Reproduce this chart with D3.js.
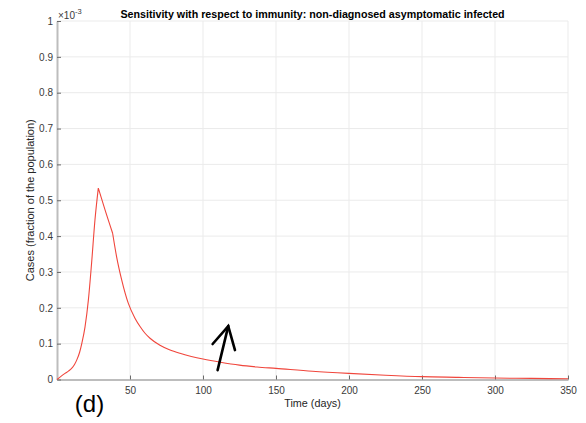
<!DOCTYPE html>
<html><head><meta charset="utf-8">
<script src="https://cdn.jsdelivr.net/npm/d3@7"></script>
<style>body{margin:0;background:#fff}svg{display:block}text{font-family:"Liberation Sans",Arial,sans-serif}</style>
</head><body><svg id="c" width="586" height="423"></svg>
<script>
const days = [0, 2.5, 5.5, 8, 10, 12, 13.5, 15.5, 17, 19.2, 21.5, 23.7, 26, 28.3, 32.9, 38.1, 40.8, 44.3, 48.8, 53.4, 57, 60.3, 63.7, 70.5, 77, 84.2, 92, 100, 112, 125, 137, 150, 175, 200, 225, 250, 275, 300, 325, 350];
const cases = [0, 0.008, 0.017, 0.024, 0.031, 0.042, 0.054, 0.076, 0.101, 0.147, 0.222, 0.325, 0.445, 0.534, 0.473, 0.408, 0.343, 0.278, 0.213, 0.171, 0.147, 0.129, 0.115, 0.0955, 0.083, 0.073, 0.0644, 0.057, 0.048, 0.040, 0.035, 0.031, 0.023, 0.017, 0.012, 0.008, 0.006, 0.004, 0.003, 0.002];
const breakDays = [28.3, 38.1];
const xTicks = [50, 100, 150, 200, 250, 300, 350];
const yTicks = [0, 0.1, 0.2, 0.3, 0.4, 0.5, 0.6, 0.7, 0.8, 0.9, 1];
const arrowShaft = [[110, 0.026], [117.3, 0.149]];
const arrowHead = [[106.6, 0.099], [117.3, 0.149], [121.9, 0.082]];
const title = "Sensitivity with respect to immunity: non-diagnosed asymptomatic infected";

const svg = d3.select("#c");
const L = 57, T = 21, R = 568, B = 379.5;
const x = d3.scaleLinear().domain([0, 350]).range([L, R]);
const y = d3.scaleLinear().domain([0, 1]).range([B, T]);

// grid
svg.append("g").selectAll("line").data(xTicks).join("line")
  .attr("x1", d => x(d)).attr("x2", d => x(d)).attr("y1", T).attr("y2", B)
  .attr("stroke", "#ebebeb").attr("stroke-width", 1);
svg.append("g").selectAll("line").data(yTicks).join("line")
  .attr("x1", L).attr("x2", R).attr("y1", d => y(d)).attr("y2", d => y(d))
  .attr("stroke", "#ebebeb").attr("stroke-width", 1);

// axes
const xAxis = svg.append("g").attr("transform", `translate(0,${B})`)
  .call(d3.axisBottom(x).tickValues(xTicks).tickSizeInner(-4).tickSizeOuter(0).tickPadding(7).tickFormat(d3.format("d")));
const yAxis = svg.append("g").attr("transform", `translate(${L},0)`)
  .call(d3.axisLeft(y).tickValues(yTicks).tickSizeInner(-4).tickSizeOuter(0).tickPadding(4).tickFormat(d => d === 0 ? "0" : d === 1 ? "1" : d3.format(".1f")(d)));
[xAxis, yAxis].forEach(a => {
  a.select(".domain").attr("stroke", "#bdbdbd").attr("stroke-width", 2);
  a.selectAll(".tick line").attr("stroke", "#6a6a6a");
  a.selectAll(".tick text").attr("fill", "#3a3a3a").style("font-size", "10px").style("font-family", '"Liberation Sans",Arial,sans-serif');
});

// line, drawn as smooth segments split at the sharp corners
const pts = days.map((d, i) => [d, cases[i]]);
const cuts = [0, ...breakDays.map(b => days.indexOf(b)), days.length - 1];
const curveLine = d3.line().curve(d3.curveMonotoneX).x(d => x(d[0])).y(d => y(d[1]));
let dStr = "";
for (let k = 0; k < cuts.length - 1; k++) dStr += curveLine(pts.slice(cuts[k], cuts[k + 1] + 1));
svg.append("path").attr("fill", "none").attr("stroke", "#f0463c").attr("stroke-width", 1.1)
  .attr("stroke-linejoin", "miter").attr("d", dStr);

// arrow annotation
const ln = d3.line().x(d => x(d[0])).y(d => y(d[1]));
svg.append("path").attr("d", ln(arrowShaft)).attr("fill", "none").attr("stroke", "#000").attr("stroke-width", 2.6).attr("stroke-linecap", "round");
svg.append("path").attr("d", ln(arrowHead)).attr("fill", "none").attr("stroke", "#000").attr("stroke-width", 2.6).attr("stroke-linecap", "round").attr("stroke-linejoin", "miter");

// texts
svg.append("text").attr("x", (L + R) / 2).attr("y", 18).attr("text-anchor", "middle")
  .style("font-size", "10.7px").style("font-weight", "bold").attr("fill", "#000").text(title);
svg.append("text").attr("x", (L + R) / 2).attr("y", 407).attr("text-anchor", "middle")
  .style("font-size", "10.8px").attr("fill", "#262626").text("Time (days)");
svg.append("text").attr("transform", `translate(33.5,${(T + B) / 2}) rotate(-90)`).attr("text-anchor", "middle")
  .style("font-size", "11px").attr("fill", "#262626").text("Cases (fraction of the population)");
const ex = svg.append("text").attr("x", L + 1).attr("y", 19).style("font-size", "10px").attr("fill", "#3a3a3a");
ex.append("tspan").text("\u00d710");
ex.append("tspan").attr("dy", -5).style("font-size", "7.5px").text("-3");
svg.append("text").attr("x", 89.5).attr("y", 412).attr("text-anchor", "middle")
  .style("font-size", "24px").attr("fill", "#000").text("(d)");
</script></body></html>
